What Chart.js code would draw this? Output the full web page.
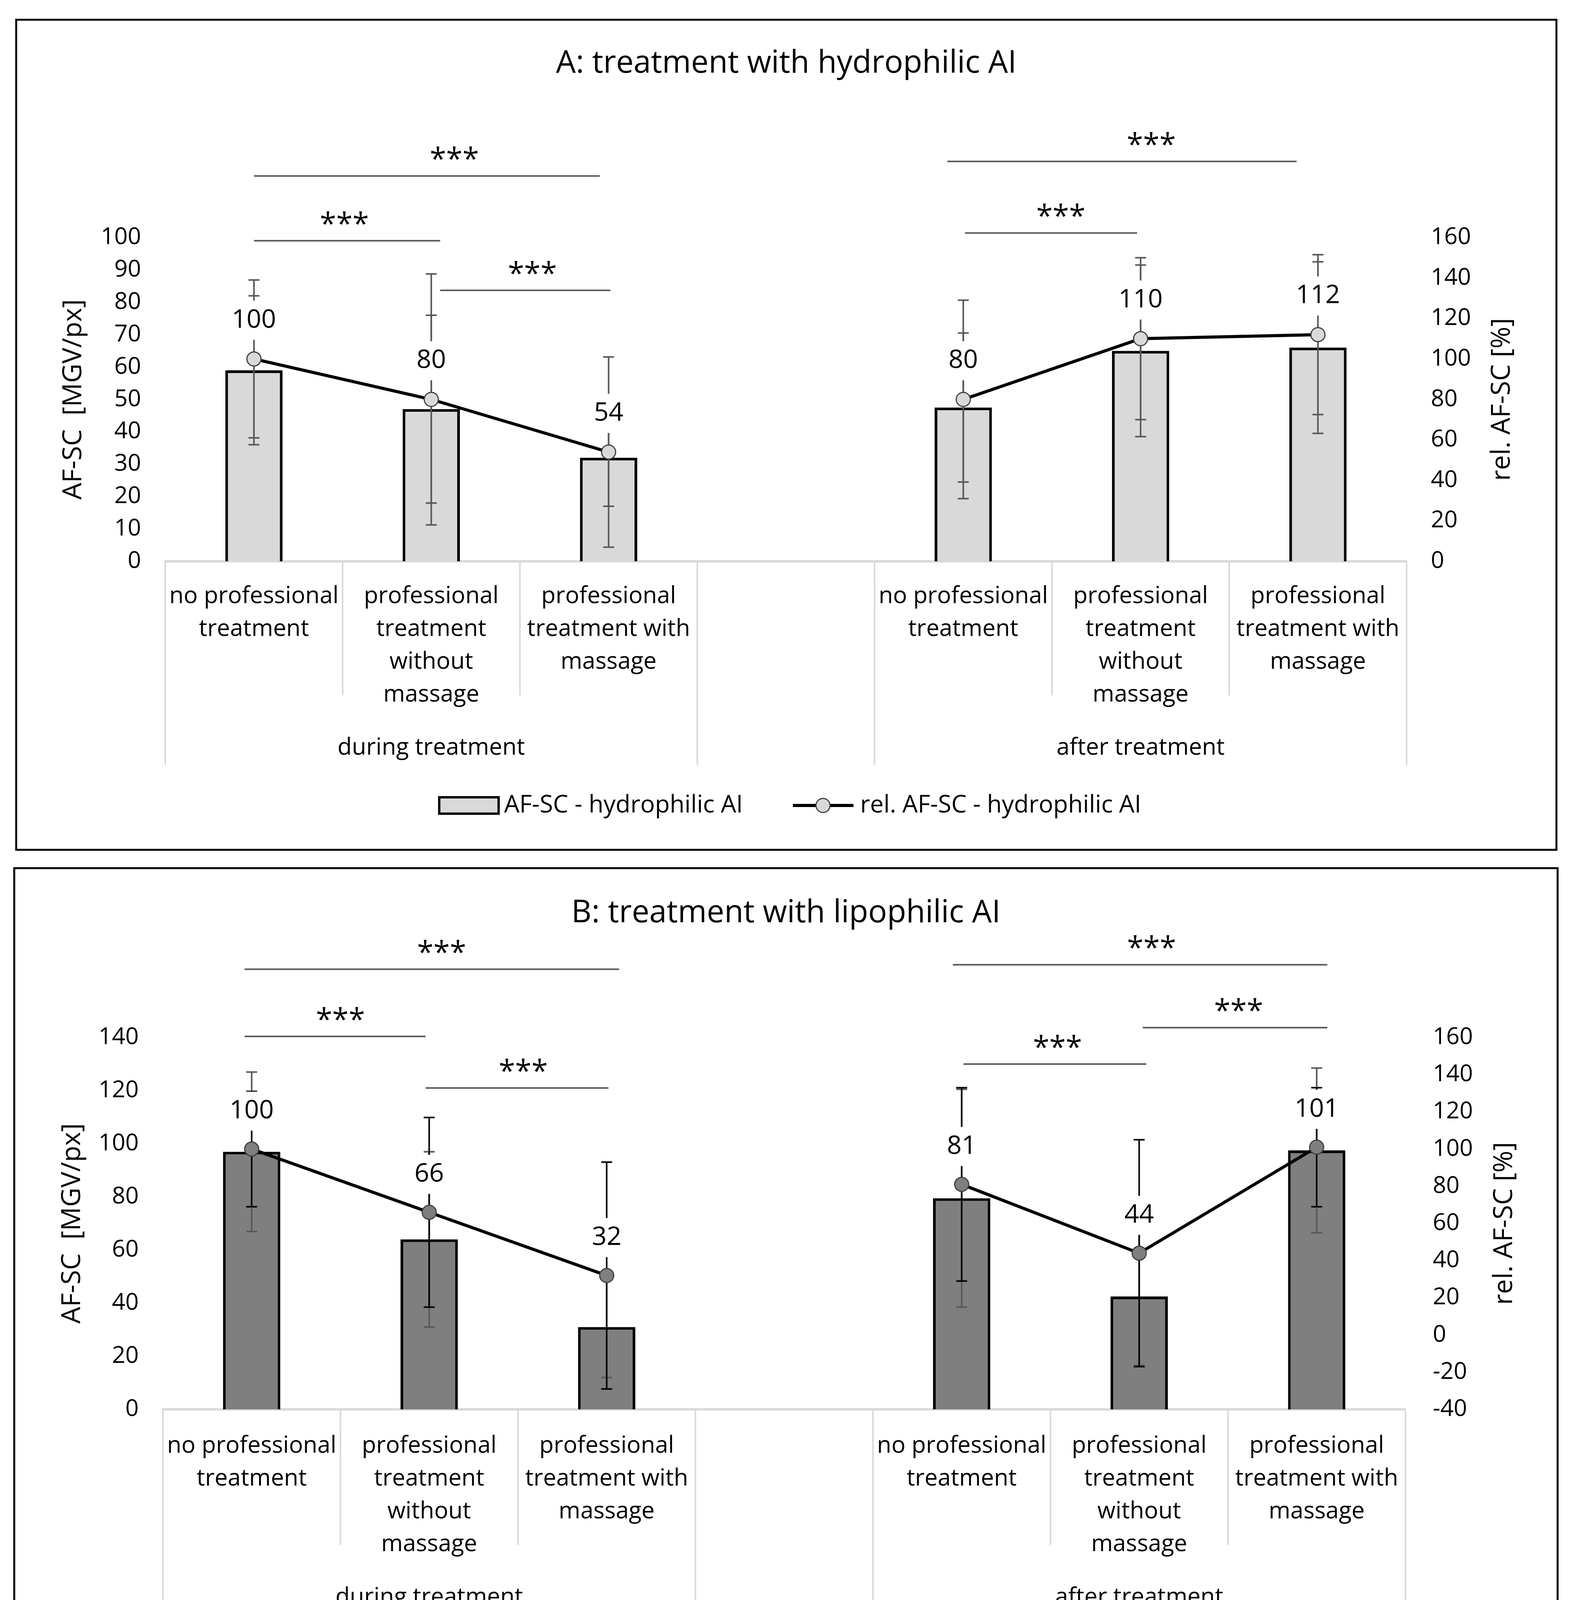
<!DOCTYPE html>
<html>
<head>
<meta charset="utf-8">
<script src="https://cdn.jsdelivr.net/npm/chart.js@4.4.1/dist/chart.umd.min.js"></script>
<style>
  html, body { margin: 0; padding: 0; background: #fff; }
  body { width: 4031px; height: 4413px; position: relative; overflow: hidden; }
  .panel { position: absolute; border: 5px solid #000; box-sizing: border-box; background: #fff; }
  .panel canvas { position: absolute; left: 0; top: 0; }
</style>
</head>
<body>
<div class="panel" style="left:39px;top:48px;width:3947px;height:2130px;">
  <canvas id="chartA" width="3937" height="2120"></canvas>
</div>
<div class="panel" style="left:34px;top:2220px;width:3955px;height:2133px;">
  <canvas id="chartB" width="3945" height="2123"></canvas>
</div>
<script>
// categories (slot 4 is the empty gap between the two groups)
const categories = [
  ["no professional", "treatment"],
  ["professional", "treatment", "without", "massage"],
  ["professional", "treatment with", "massage"],
  "",
  ["no professional", "treatment"],
  ["professional", "treatment", "without", "massage"],
  ["professional", "treatment with", "massage"]
];
const groups = ["during treatment", "", "after treatment"];
const groupSpans = [[0, 2], [3, 3], [4, 6]];

// A: hydrophilic AI
const hydroAbs = [59, 47, 32, null, 47.5, 65, 66];
const hydroAbsErr = [23, 29, 15, null, 23, 26.5, 26.5];
const hydroRel = [100, 80, 54, null, 80, 110, 112];
const hydroRelErr = [39, 62, 47, null, 49, 40, 39.5];
const hydroLeftTicks = [0, 100, 10];
const hydroRightTicks = [0, 160, 20];

// B: lipophilic AI
const lipoAbs = [97, 64, 31, null, 79.5, 42.5, 97.5];
const lipoAbsErr = [30, 33, 19, null, 41, 26, 31];
const lipoRel = [100, 66, 32, null, 81, 44, 101];
const lipoRelErr = [31, 51, 61, null, 52, 61, 32];
const lipoLeftTicks = [0, 140, 20];
const lipoRightTicks = [-40, 160, 20];

Chart.defaults.font.family = '"Open Sans", sans-serif';
Chart.defaults.color = "#000";

const FONT = '"Open Sans", sans-serif';

function errorBars(ctx, meta, scale, vals, errs, color) {
  ctx.save();
  ctx.strokeStyle = color;
  ctx.lineWidth = 4;
  vals.forEach((v, i) => {
    if (v === null) return;
    const px = meta.data[i].x;
    const top = scale.getPixelForValue(v + errs[i]);
    const bot = scale.getPixelForValue(v - errs[i]);
    ctx.beginPath();
    ctx.moveTo(px, top); ctx.lineTo(px, bot);
    ctx.moveTo(px - 14, top); ctx.lineTo(px + 14, top);
    ctx.moveTo(px - 14, bot); ctx.lineTo(px + 14, bot);
    ctx.stroke();
  });
  ctx.restore();
}

function makeDecor(p) {
  return {
    id: "decor",
    afterDatasetDraw(chart, args) {
      if (args.index !== 0) return;
      const ctx = chart.ctx;
      errorBars(ctx, chart.getDatasetMeta(0), chart.scales.y, p.abs, p.absErr, p.absErrColor);
      errorBars(ctx, chart.getDatasetMeta(1), chart.scales.y1, p.rel, p.relErr, p.relErrColor);
    },
    afterDatasetsDraw(chart) {
      const ctx = chart.ctx;
      const meta = chart.getDatasetMeta(1);
      ctx.save();
      // value labels with white boxes
      ctx.font = "66px " + FONT;
      ctx.textAlign = "center";
      ctx.textBaseline = "middle";
      p.rel.forEach((v, i) => {
        if (v === null) return;
        const pt = meta.data[i];
        const txt = String(Math.round(v));
        const w = ctx.measureText(txt).width + 24;
        const cy = pt.y - p.labelOffset;
        ctx.fillStyle = "#fff";
        ctx.fillRect(pt.x - w / 2, cy - 50, w, 100);
        ctx.fillStyle = "#000";
        ctx.fillText(txt, pt.x, cy);
      });
      // significance brackets
      const x = chart.scales.x, y = chart.scales.y;
      ctx.strokeStyle = "#595959";
      ctx.lineWidth = 4;
      ctx.font = "76px " + FONT;
      p.brackets.forEach(b => {
        const yy = y.getPixelForValue(b.y);
        ctx.beginPath();
        ctx.moveTo(x.getPixelForValue(b.from), yy);
        ctx.lineTo(x.getPixelForValue(b.to), yy);
        ctx.stroke();
        ctx.fillStyle = "#000";
        ctx.fillText("***", x.getPixelForValue(b.textAt), yy - 38);
      });
      ctx.restore();
    },
    afterDraw(chart) {
      const ctx = chart.ctx;
      const x = chart.scales.x;
      const area = chart.chartArea;
      const slot = x.getPixelForValue(1) - x.getPixelForValue(0);
      const left = x.getPixelForValue(0) - slot / 2;
      const outer = [0, 3, 4, 7];
      ctx.save();
      ctx.strokeStyle = "#d9d9d9";
      ctx.lineWidth = 4;
      for (let k = 0; k <= categories.length; k++) {
        const xx = left + k * slot;
        const len = outer.includes(k) ? p.longDiv : p.shortDiv;
        ctx.beginPath();
        ctx.moveTo(xx, area.bottom);
        ctx.lineTo(xx, area.bottom + len);
        ctx.stroke();
      }
      // group labels
      ctx.fillStyle = "#000";
      ctx.font = "60px " + FONT;
      ctx.textAlign = "center";
      ctx.textBaseline = "middle";
      groups.forEach((g, i) => {
        const cx = (x.getPixelForValue(groupSpans[i][0]) + x.getPixelForValue(groupSpans[i][1])) / 2;
        ctx.fillText(g, cx, area.bottom + p.groupY);
      });
      // axis titles (both read bottom to top)
      const midY = (area.top + area.bottom) / 2;
      ctx.font = "68px " + FONT;
      ctx.save();
      ctx.translate(p.leftTitleX, midY);
      ctx.rotate(-Math.PI / 2);
      ctx.fillText("AF-SC  [MGV/px]", 0, 0);
      ctx.restore();
      ctx.save();
      ctx.translate(chart.width - p.rightTitleX, midY);
      ctx.rotate(-Math.PI / 2);
      ctx.fillText("rel. AF-SC [%]", 0, 0);
      ctx.restore();
      // legend
      const ly = area.bottom + p.legendY;
      ctx.font = "62px " + FONT;
      const t1 = p.absLabel, t2 = p.relLabel;
      const w1 = ctx.measureText(t1).width, w2 = ctx.measureText(t2).width;
      const total = 152 + 14 + w1 + 128 + 155 + 17 + w2;
      let lx = chart.width / 2 + 10 - total / 2;
      ctx.fillStyle = p.fill;
      ctx.fillRect(lx, ly - 21, 152, 42);
      ctx.strokeStyle = "#000";
      ctx.lineWidth = 6;
      ctx.strokeRect(lx, ly - 21, 152, 42);
      lx += 152 + 14;
      ctx.fillStyle = "#000";
      ctx.textAlign = "left";
      ctx.fillText(t1, lx, ly);
      lx += w1 + 128;
      ctx.strokeStyle = "#000";
      ctx.lineWidth = 8;
      ctx.beginPath();
      ctx.moveTo(lx, ly); ctx.lineTo(lx + 155, ly);
      ctx.stroke();
      ctx.beginPath();
      ctx.arc(lx + 77, ly, 18, 0, Math.PI * 2);
      ctx.fillStyle = p.fill;
      ctx.fill();
      ctx.lineWidth = 3;
      ctx.strokeStyle = "#404040";
      ctx.stroke();
      lx += 155 + 17;
      ctx.fillStyle = "#000";
      ctx.fillText(t2, lx, ly);
      ctx.restore();
    }
  };
}

function buildChart(id, p) {
  return new Chart(document.getElementById(id), {
    type: "bar",
    data: {
      labels: categories,
      datasets: [
        {
          type: "bar",
          label: p.absLabel,
          data: p.abs,
          yAxisID: "y",
          order: 2,
          backgroundColor: p.fill,
          borderColor: "#000",
          borderWidth: 7,
          barPercentage: 0.323,
          categoryPercentage: 1
        },
        {
          type: "line",
          label: p.relLabel,
          data: p.rel,
          yAxisID: "y1",
          order: 1,
          borderColor: "#000",
          borderWidth: 8,
          tension: 0,
          spanGaps: false,
          pointRadius: 18,
          pointBackgroundColor: p.fill,
          pointBorderColor: "#404040",
          pointBorderWidth: 3
        }
      ]
    },
    options: {
      responsive: false,
      animation: false,
      devicePixelRatio: 1,
      layout: { padding: 0 },
      plugins: {
        legend: { display: false },
        tooltip: { enabled: false },
        title: {
          display: true,
          text: p.title,
          color: "#000",
          font: { size: 80, weight: "normal" },
          padding: { top: p.titleTop, bottom: p.titleBottom }
        }
      },
      scales: {
        x: {
          offset: true,
          grid: { display: false, drawTicks: false },
          border: { color: "#d9d9d9", width: 6 },
          ticks: {
            autoSkip: false, maxRotation: 0, minRotation: 0,
            padding: p.tickPad, color: "#000",
            font: { size: 60, lineHeight: 1.4 }
          },
          afterFit(s) { s.height = p.xHeight; }
        },
        y: {
          position: "left",
          min: p.leftTicks[0], max: p.leftTicks[1],
          grid: { display: false, drawTicks: false },
          border: { display: false },
          ticks: { stepSize: p.leftTicks[2], padding: 62, color: "#000", font: { size: 60 } },
          afterFit(s) { s.width = p.leftW; }
        },
        y1: {
          position: "right",
          min: p.rightTicks[0], max: p.rightTicks[1],
          grid: { display: false, drawTicks: false },
          border: { display: false },
          ticks: { stepSize: p.rightTicks[2], padding: p.rightPad, color: "#000", font: { size: 60 } },
          afterFit(s) { s.width = p.rightW; }
        }
      }
    },
    plugins: [makeDecor(p)]
  });
}

buildChart("chartA", {
  title: "A: treatment with hydrophilic AI",
  absLabel: "AF-SC - hydrophilic AI",
  relLabel: "rel. AF-SC - hydrophilic AI",
  abs: hydroAbs, absErr: hydroAbsErr, rel: hydroRel, relErr: hydroRelErr,
  leftTicks: hydroLeftTicks, rightTicks: hydroRightTicks,
  fill: "#d9d9d9", absErrColor: "#595959", relErrColor: "#595959",
  titleTop: 62, titleBottom: 397,
  leftW: 379, rightW: 381, rightPad: 62, xHeight: 736, tickPad: 48,
  shortDiv: 343, longDiv: 521, groupY: 478, legendY: 625,
  leftTitleX: 145, rightTitleX: 136, labelOffset: 99,
  brackets: [
    { from: 0, to: 1.95, y: 119, textAt: 1.13 },
    { from: 0, to: 1.05, y: 99, textAt: 0.51 },
    { from: 1.05, to: 2.01, y: 83.7, textAt: 1.57 },
    { from: 3.91, to: 5.88, y: 123.5, textAt: 5.06 },
    { from: 4.01, to: 4.98, y: 101.4, textAt: 4.55 }
  ]
});

buildChart("chartB", {
  title: "B: treatment with lipophilic AI",
  absLabel: "AF-SC - lipohilic AI",
  relLabel: "rel. AF-SC - lipohilic AI",
  abs: lipoAbs, absErr: lipoAbsErr, rel: lipoRel, relErr: lipoRelErr,
  leftTicks: lipoLeftTicks, rightTicks: lipoRightTicks,
  fill: "#7f7f7f", absErrColor: "#595959", relErrColor: "#000",
  titleTop: 65, titleBottom: 270,
  leftW: 378, rightW: 387, rightPad: 70, xHeight: 740, tickPad: 52,
  shortDiv: 347, longDiv: 530, groupY: 482, legendY: 632,
  leftTitleX: 147, rightTitleX: 133, labelOffset: 97,
  brackets: [
    { from: -0.04, to: 2.07, y: 165.7, textAt: 1.07 },
    { from: -0.04, to: 0.98, y: 140.4, textAt: 0.5 },
    { from: 0.98, to: 2.01, y: 121, textAt: 1.53 },
    { from: 3.95, to: 6.06, y: 167.4, textAt: 5.07 },
    { from: 5.02, to: 6.06, y: 143.7, textAt: 5.56 },
    { from: 4.01, to: 5.04, y: 130, textAt: 4.54 }
  ]
});
</script>
</body>
</html>
